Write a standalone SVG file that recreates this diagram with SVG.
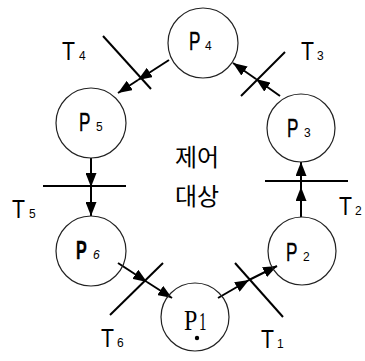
<svg xmlns="http://www.w3.org/2000/svg" width="365" height="361" viewBox="0 0 365 361">
<defs>
<marker id="ah" viewBox="0 0 14 11" refX="14" refY="5.5" markerWidth="14" markerHeight="11" markerUnits="userSpaceOnUse" orient="auto"><path d="M0,0 L14,5.5 L0,11 z" fill="#000"/></marker>
</defs>
<style>
.pl{fill:none;stroke:#222;stroke-width:1.2}
.tr{stroke:#000;stroke-width:2}
.cn{stroke:#000;stroke-width:2;fill:none;marker-end:url(#ah)}
.lb{font-family:"Liberation Sans",Arial,sans-serif;font-size:26px;fill:#000;stroke:#000;stroke-width:0.4}
.sub{font-family:"Liberation Sans",Arial,sans-serif;font-size:12px;fill:#000}
.tl{font-family:"Liberation Sans",Arial,sans-serif;font-size:25px;fill:#000}
.ko{font-family:"Noto Sans CJK KR",sans-serif;font-size:24px;fill:#000;text-anchor:middle}
</style>
<rect width="365" height="361" fill="#fff"/>
<g id="connectors">
<path class="cn" d="M169,60 L138,80"/><path class="cn" d="M138,80 L118,93"/>
<path class="cn" d="M280,96 L256,79"/><path class="cn" d="M256,79 L233,63"/>
<path class="cn" d="M91,158 L91,187"/><path class="cn" d="M91,187 L91,216"/>
<path class="cn" d="M301,217 L301,187"/><path class="cn" d="M301,187 L301,162"/>
<path class="cn" d="M118,263 L147,282"/><path class="cn" d="M147,282 L172,298"/>
<path class="cn" d="M218,298 L249,280"/><path class="cn" d="M249,280 L277,266"/>
</g>
<g id="P4"><circle class="pl" cx="203" cy="43" r="35"/><text class="lb" transform="translate(189,50) scale(0.66,1)">P</text><text class="sub" x="205" y="50">4</text></g>
<g id="P5"><circle class="pl" cx="91" cy="123" r="35"/><text class="lb" transform="translate(79,131) scale(0.66,1)">P</text><text class="sub" x="96" y="131">5</text></g>
<g id="P3"><circle class="pl" cx="301" cy="128" r="34"/><text class="lb" transform="translate(287,137) scale(0.66,1)">P</text><text class="sub" x="304" y="137">3</text></g>
<g id="P6"><circle class="pl" cx="91" cy="251" r="35"/><text class="lb" font-weight="bold" transform="translate(76,259) scale(0.62,1)">P</text><text class="sub" font-style="italic" x="93" y="259">6</text></g>
<g id="P2"><circle class="pl" cx="302" cy="251" r="34"/><text class="lb" transform="translate(286,261) scale(0.66,1)">P</text><text class="sub" x="303" y="261">2</text></g>
<g id="P1"><circle class="pl" cx="195" cy="317" r="34"/><text font-family="Liberation Serif,serif" font-size="30" transform="translate(184,330) scale(0.8,1)">P</text><text font-family="Liberation Serif,serif" font-size="25" transform="translate(199,330) scale(0.6,1)">1</text><circle cx="197" cy="338" r="2.2"/></g>
<g id="T4"><line class="tr" x1="103" y1="36" x2="151" y2="89"/><text class="tl" transform="translate(62,60) scale(0.85,1)">T</text><text class="sub" x="79" y="60">4</text></g>
<g id="T3"><line class="tr" x1="285" y1="52" x2="241" y2="96"/><text class="tl" transform="translate(301,60) scale(0.85,1)">T</text><text class="sub" x="317" y="60">3</text></g>
<g id="T5"><line class="tr" x1="43" y1="186" x2="126" y2="186"/><text class="tl" transform="translate(12,218) scale(0.85,1)">T</text><text class="sub" x="29" y="218">5</text></g>
<g id="T2"><line class="tr" x1="265" y1="181" x2="348" y2="181"/><text class="tl" transform="translate(339,215) scale(0.85,1)">T</text><text class="sub" x="355" y="215">2</text></g>
<g id="T6"><line class="tr" x1="163" y1="263" x2="110" y2="315"/><text class="tl" transform="translate(101,347) scale(0.85,1)">T</text><text class="sub" x="117" y="347">6</text></g>
<g id="T1"><line class="tr" x1="235" y1="263" x2="283" y2="317"/><text class="tl" transform="translate(261,348) scale(0.85,1)">T</text><text class="sub" x="277" y="348">1</text></g>
<g id="label"><text class="ko" x="197" y="166">제어</text><text class="ko" x="197" y="205">대상</text></g>
</svg>
